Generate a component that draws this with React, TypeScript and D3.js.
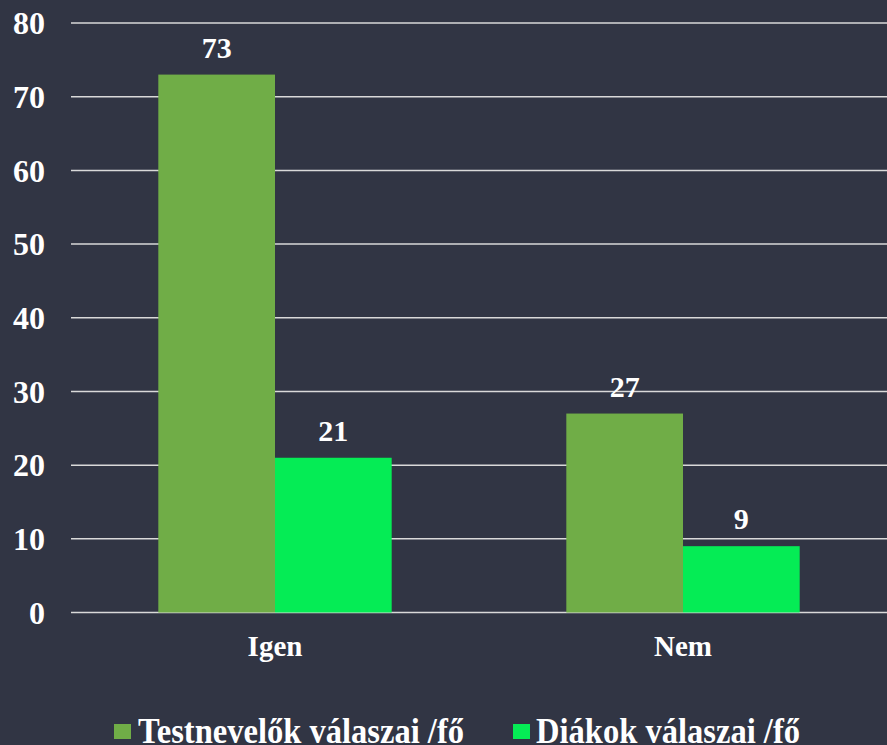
import React from "react";
import * as d3 from "d3";

const categories = ["Igen", "Nem"];
const seriesNames = ["Testnevelők válaszai /fő", "Diákok válaszai /fő"];
const testneveloValues = [73, 27];
const diakValues = [21, 9];
const yTicks = [0, 10, 20, 30, 40, 50, 60, 70, 80];

const W = 887;
const H = 745;
const BG = "#313544";
const COLORS = ["#70AD47", "#05EC55"];
const FONT = "Liberation Serif, Times New Roman, serif";

export default function App() {
  const x0 = d3.scaleBand<string>().domain(categories).range([71, 887]).paddingInner(0).paddingOuter(0);
  const y = d3.scaleLinear().domain([0, 80]).range([612.5, 23]);
  const groupInner = 0.214;
  const x1 = d3
    .scaleBand<number>()
    .domain([0, 1])
    .range([x0.bandwidth() * groupInner, x0.bandwidth() * (1 - groupInner)])
    .padding(0);
  const series = [testneveloValues, diakValues];
  const textStyle = { fontFamily: FONT, fontWeight: 700 as const };

  return (
    <div style={{ position: "absolute", left: 0, top: 0 }}>
      <svg width={W} height={H} style={{ display: "block" }}>
        <rect x={0} y={0} width={W} height={H} fill={BG} />
        {yTicks.map((t) => (
          <g key={t}>
            <line x1={71} x2={887} y1={y(t)} y2={y(t)} stroke="#D9D9D9" strokeWidth={1.5} />
            <text
              x={45}
              y={y(t)}
              dy="0.35em"
              textAnchor="end"
              fill="#FFFFFF"
              style={{ ...textStyle, fontSize: 32 }}
            >
              {t}
            </text>
          </g>
        ))}
        {categories.map((c, ci) => (
          <g key={c} transform={`translate(${x0(c)},0)`}>
            {series.map((vals, si) => {
              const v = vals[ci];
              const bx = x1(si) as number;
              const bw = x1.bandwidth();
              return (
                <g key={si}>
                  <rect x={bx} y={y(v)} width={bw} height={y(0) - y(v)} fill={COLORS[si]} />
                  <text
                    x={bx + bw / 2}
                    y={y(v) - 17}
                    textAnchor="middle"
                    fill="#FFFFFF"
                    style={{ ...textStyle, fontSize: 30 }}
                  >
                    {v}
                  </text>
                </g>
              );
            })}
            <text
              x={x0.bandwidth() / 2}
              y={656}
              textAnchor="middle"
              fill="#FFFFFF"
              style={{ ...textStyle, fontSize: 29 }}
            >
              {c}
            </text>
          </g>
        ))}
        {seriesNames.map((name, i) => {
          const sx = [114, 513][i];
          const tx = [138, 536][i];
          const tl = [326, 264][i];
          return (
            <g key={name}>
              <rect x={sx} y={724} width={17} height={15} fill={COLORS[i]} />
              <text
                x={tx}
                y={743}
                fill="#FFFFFF"
                style={{ ...textStyle, fontSize: 36 }}
                textLength={tl}
                lengthAdjust="spacingAndGlyphs"
              >
                {name}
              </text>
            </g>
          );
        })}
      </svg>
    </div>
  );
}
